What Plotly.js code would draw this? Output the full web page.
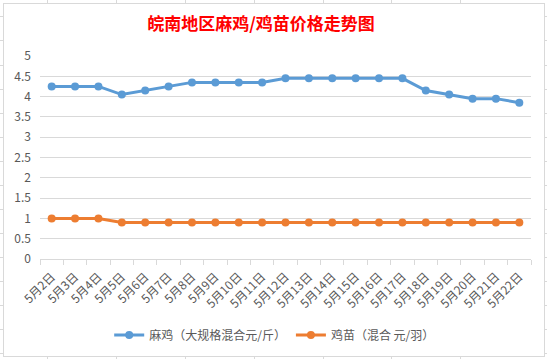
<!DOCTYPE html>
<html>
<head>
<meta charset="utf-8">
<script src="https://cdn.plot.ly/plotly-3.0.1.min.js"></script>
<style>
  html, body { margin:0; padding:0; background:#fff; }
  #wrap { position:relative; width:547px; height:359px; overflow:hidden; }
  .v { position:absolute; width:1px; background:#d9d9d9; }
  .h { position:absolute; height:1px; background:#d9d9d9; }
  #chart { position:absolute; left:0; top:0; width:547px; height:359px; }
  #frame { position:absolute; left:3px; top:3px; width:540px; height:352px; border:1px solid #d9d9d9; pointer-events:none; background:transparent; }
</style>
</head>
<body>
<div id="wrap">
  <div id="chart"></div>
  <div id="frame"></div>
</div>
<script>
const categories = ["5月2日","5月3日","5月4日","5月5日","5月6日","5月7日","5月8日","5月9日","5月10日","5月11日","5月12日","5月13日","5月14日","5月15日","5月16日","5月17日","5月18日","5月19日","5月20日","5月21日","5月22日"];
const majiName = "麻鸡（大规格混合元/斤）";
const majiValues = [4.25,4.25,4.25,4.05,4.15,4.25,4.35,4.35,4.35,4.35,4.45,4.45,4.45,4.45,4.45,4.45,4.15,4.05,3.95,3.95,3.85];
const jimiaoName = "鸡苗（混合 元/羽）";
const jimiaoValues = [1.0,1.0,1.0,0.9,0.9,0.9,0.9,0.9,0.9,0.9,0.9,0.9,0.9,0.9,0.9,0.9,0.9,0.9,0.9,0.9,0.9];
const yTicks = [0,0.5,1,1.5,2,2.5,3,3.5,4,4.5,5];
const titleText = "皖南地区麻鸡/鸡苗价格走势图";

// Excel sheet cell lines outside chart frame
const wrap = document.getElementById('wrap');
[47,116,185,254,323,391,460].forEach(x => {
  ['top','bottom'].forEach(side => {
    const d = document.createElement('div');
    d.className = 'v';
    d.style.left = x + 'px';
    d.style[side] = '0px';
    d.style.height = '3px';
    wrap.insertBefore(d, wrap.firstChild);
  });
});
[16,40,65,89,113,137,161,185,209,233,257,281,305,329,353].forEach(y => {
  ['left','right'].forEach(side => {
    const d = document.createElement('div');
    d.className = 'h';
    d.style.top = y + 'px';
    d.style[side] = '0px';
    d.style.width = '3px';
    wrap.insertBefore(d, wrap.firstChild);
  });
});

const font = "Noto Sans CJK SC, Microsoft YaHei, sans-serif";
const traces = [
  { x: categories, y: majiValues, name: majiName, type: 'scatter', mode: 'lines+markers',
    line: { color: '#5b9bd5', width: 3 }, marker: { color: '#5b9bd5', size: 8 } },
  { x: categories, y: jimiaoValues, name: jimiaoName, type: 'scatter', mode: 'lines+markers',
    line: { color: '#ed7d31', width: 3 }, marker: { color: '#ed7d31', size: 8 } }
];
const layout = {
  width: 547, height: 359,
  margin: { l: 40, r: 16, t: 56, b: 100, autoexpand: false },
  paper_bgcolor: 'rgba(0,0,0,0)', plot_bgcolor: 'rgba(0,0,0,0)',
  font: { family: font, color: '#595959', size: 12 },
  title: { text: titleText, font: { family: font, size: 17, color: '#ff0000', weight: 'bold' },
           x: 261 / 547, xref: 'container', xanchor: 'center', y: 0.933, yanchor: 'middle', automargin: false },
  xaxis: { type: 'category', range: [-0.5, categories.length - 0.5], autorange: false,
           showgrid: false, showline: true, linecolor: '#d9d9d9', linewidth: 1,
           ticks: 'outside', tickson: 'boundaries', ticklen: 5, tickcolor: '#d9d9d9', automargin: false,
           ticklabelstandoff: 5,
           tickangle: -45, tickfont: { size: 12, color: '#595959' }, fixedrange: true },
  yaxis: { range: [0, 5], autorange: false, tickvals: yTicks, ticktext: yTicks.map(String), showgrid: true, automargin: false,
           gridcolor: '#d9d9d9', gridwidth: 1, zeroline: false, showline: false, ticks: '',
           ticklabelstandoff: 8, tickfont: { size: 12, color: '#595959' }, fixedrange: true },
  showlegend: true,
  legend: { orientation: 'h', x: 0.478, xanchor: 'center', y: -0.374, yanchor: 'middle',
            font: { size: 12, color: '#595959' }, itemwidth: 30, bgcolor: 'rgba(0,0,0,0)' }
};
Plotly.newPlot('chart', traces, layout, { displayModeBar: false, staticPlot: true });
</script>
</body>
</html>
